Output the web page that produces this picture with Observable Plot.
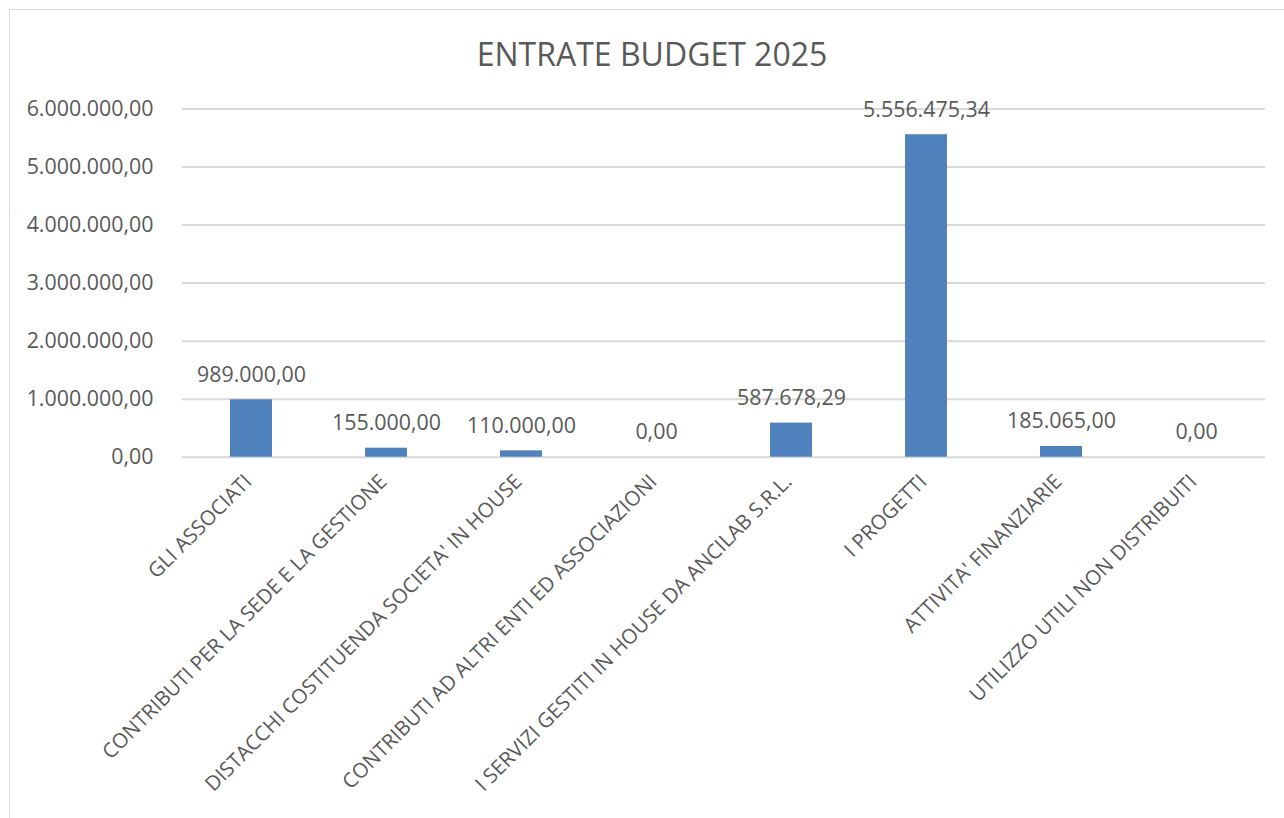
<!DOCTYPE html>
<html>
<head>
<meta charset="utf-8">
<script src="https://cdn.jsdelivr.net/npm/d3@7"></script>
<script src="https://cdn.jsdelivr.net/npm/@observablehq/plot@0.6"></script>
<style>
  html, body { margin: 0; padding: 0; background: #fff; overflow: hidden; }
  #wrap { position: relative; width: 1284px; height: 818px; font-family: "Open Sans", sans-serif; }
  #frame { position: absolute; left: 9px; top: 9px; width: 1290px; height: 830px; border: 1.5px solid #d9d9d9; box-sizing: border-box; }
  #title { position: absolute; left: 0; width: 1304px; top: 35px; text-align: center; font-size: 32px; line-height: 38px; color: #595959; }
  #chart { position: absolute; left: 0; top: 90px; }
</style>
</head>
<body>
<div id="wrap">
  <div id="frame"></div>
  <div id="title">ENTRATE BUDGET 2025</div>
  <div id="chart"></div>
</div>
<script>
const categories = [
  "GLI ASSOCIATI",
  "CONTRIBUTI PER LA SEDE E LA GESTIONE",
  "DISTACCHI COSTITUENDA SOCIETA' IN HOUSE",
  "CONTRIBUTI AD ALTRI ENTI ED ASSOCIAZIONI",
  "I SERVIZI GESTITI IN HOUSE DA ANCILAB S.R.L.",
  "I PROGETTI",
  "ATTIVITA' FINANZIARIE",
  "UTILIZZO UTILI NON DISTRIBUITI"
];
const values = [989000.00, 155000.00, 110000.00, 0.00, 587678.29, 5556475.34, 185065.00, 0.00];
const yTicks = [0, 1000000, 2000000, 3000000, 4000000, 5000000, 6000000];

const locale = d3.formatLocale({decimal: ",", thousands: ".", grouping: [3], currency: ["", "€"]});
const fmt = locale.format(",.2f");

const data = categories.map((c, i) => ({cat: c, value: values[i]}));

const chart = Plot.plot({
  width: 1284,
  height: 728,
  marginTop: 18.5,
  marginBottom: 361.3,
  marginLeft: 182,
  marginRight: 19,
  style: {fontFamily: "Open Sans", fontSize: "21.4px", color: "#595959", background: "transparent", overflow: "visible"},
  x: {domain: categories, paddingInner: 0.6875, paddingOuter: 0.34375, label: null},
  y: {domain: [0, 6000000], label: null},
  marks: [
    Plot.gridY(yTicks, {stroke: "#d9d9d9", strokeOpacity: 1, strokeWidth: 2}),
    Plot.barY(data, {x: "cat", y: "value", fill: "#4f81bd"}),
    Plot.text(data, {x: "cat", y: "value", text: d => fmt(d.value), dy: -25, lineAnchor: "middle", fontSize: 21.4, fill: "#595959"}),
    Plot.axisY({ticks: yTicks, tickSize: 0, tickPadding: 29, tickFormat: fmt, label: null}),
    Plot.axisX({tickRotate: -45, tickSize: 0, tickPadding: 21, dx: -3, fontSize: 20.5, label: null})
  ]
});
document.getElementById("chart").appendChild(chart);
</script>
</body>
</html>
